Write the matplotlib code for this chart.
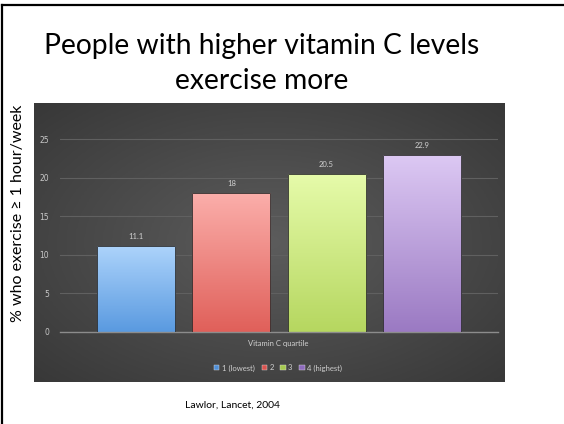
import numpy as np
import matplotlib
matplotlib.use("Agg")
from matplotlib import pyplot as plt
from matplotlib.colors import LinearSegmentedColormap
from matplotlib.patches import Patch
from matplotlib.lines import Line2D

# data
quartiles = ["1 (lowest)", "2", "3", "4 (highest)"]
percent_exercise = [11.1, 18, 20.5, 22.9]
value_labels = ["11.1", "18", "20.5", "22.9"]
y_ticks = [0, 5, 10, 15, 20, 25]

# gradient colours (bottom, top) for each bar
bar_bottoms = ["#5a9ae0", "#e0605a", "#b6d760", "#9b7ac3"]
bar_tops = ["#acd3fb", "#fbaeaa", "#e6fbaa", "#dcc8f3"]
legend_colors = ["#4f8fd8", "#d9534f", "#a6c94f", "#8e6bbd"]

fig = plt.figure(figsize=(5.64, 4.24), dpi=100)
fig.patch.set_facecolor("white")

# dark chart panel with a soft radial gradient
ax_bg = fig.add_axes([0.0603, 0.099, 0.8351, 0.658])
yy, xx = np.mgrid[-1:1:200j, -1:1:300j]
r = np.sqrt(xx ** 2 + yy ** 2) / np.sqrt(2)
panel_cmap = LinearSegmentedColormap.from_list("panel", ["#5c5c5c", "#383838"])
ax_bg.imshow(r, cmap=panel_cmap, aspect="auto", extent=[0, 1, 0, 1])
ax_bg.set_axis_off()

# plot area
ax = fig.add_axes([0.1064, 0.217, 0.7766, 0.509])
ax.patch.set_alpha(0)
x = np.arange(len(quartiles))
bars = ax.bar(x, percent_exercise, width=0.82, color="none",
              edgecolor="#2a2a2a", linewidth=0.6, zorder=3)

grad = np.linspace(0, 1, 100).reshape(-1, 1)
for bar, lo, hi in zip(bars, bar_bottoms, bar_tops):
    bx, by = bar.get_x(), bar.get_y()
    bw, bh = bar.get_width(), bar.get_height()
    cmap = LinearSegmentedColormap.from_list("g", [lo, hi])
    img = ax.imshow(grad, cmap=cmap, origin="lower", aspect="auto",
                    extent=[bx, bx + bw, by, by + bh], zorder=2)
    img.set_clip_path(bar)

for xi, val, lab in zip(x, percent_exercise, value_labels):
    ax.text(xi, val + 0.8, lab, ha="center", va="bottom",
            fontsize=5.5, color="#d0d0d0", family="Lato")

ax.set_xlim(-0.8, 3.8)
ax.set_ylim(0, 28)
ax.set_yticks(y_ticks)
ax.set_yticklabels([str(t) for t in y_ticks])
ax.set_xticks([])
ax.tick_params(axis="y", length=0, pad=8, labelsize=5.5, labelcolor="#c8c8c8")
ax.grid(axis="y", color="#606060", linewidth=0.8, zorder=0)
ax.set_axisbelow(True)
for side in ["top", "right", "left"]:
    ax.spines[side].set_visible(False)
ax.spines["bottom"].set_color("#8c8c8c")
ax.spines["bottom"].set_linewidth(1.0)

fig.text(0.493, 0.189, "Vitamin C quartile", ha="center", va="center",
         fontsize=5.5, color="#d0d0d0", family="Lato")

handles = [Patch(facecolor=c, edgecolor="#dddddd", linewidth=0.3) for c in legend_colors]
fig.legend(handles, quartiles, loc="center", bbox_to_anchor=(0.493, 0.132),
           ncol=4, frameon=False, labelcolor="#d0d0d0",
           handlelength=0.7, handleheight=0.7, handletextpad=0.3,
           columnspacing=0.9, prop={"family": "Lato", "size": 5.5})

# slide texts
fig.text(0.464, 0.850, "People with higher vitamin C levels\nexercise more",
         ha="center", va="center", fontsize=20.3, family="Lato",
         linespacing=1.4, color="black")
fig.text(0.032, 0.498, "% who exercise \u2265 1 hour/week", rotation=90,
         ha="center", va="center", fontsize=11.5, family="Lato")
fig.text(0.413, 0.045, "Lawlor, Lancet, 2004", ha="center", va="center",
         fontsize=7.5, family="Lato")

# slide border (left and top)
fig.add_artist(Line2D([0.0044, 0.0044], [0, 0.988], color="black", linewidth=1.6))
fig.add_artist(Line2D([0.0035, 1], [0.988, 0.988], color="black", linewidth=1.6))

fig.savefig("out.png", dpi=100)
